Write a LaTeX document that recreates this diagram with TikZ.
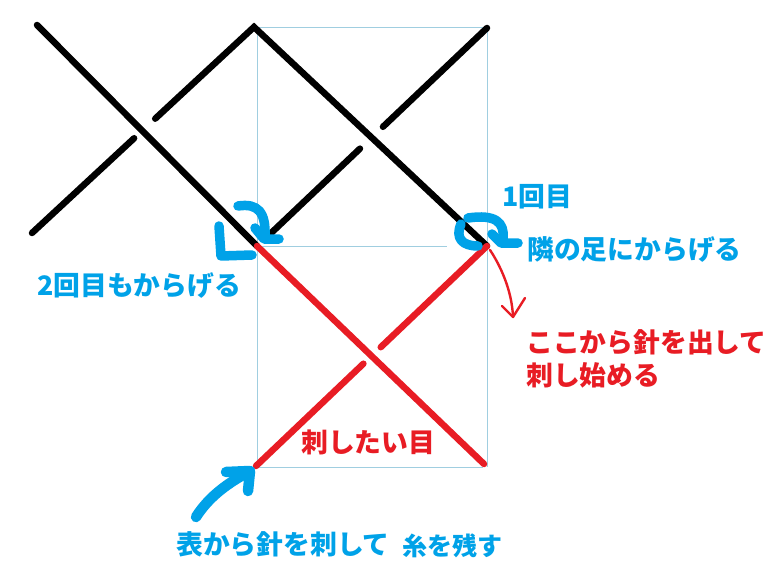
\documentclass[tikz,border=0pt]{standalone}
\usepackage{fontspec}
\newfontfamily\jp{Noto Sans CJK JP}
\usetikzlibrary{calc}
\definecolor{pblue}{RGB}{0,162,232}
\definecolor{pred}{RGB}{232,28,36}
\definecolor{gridc}{RGB}{160,206,224}
\begin{document}
\begin{tikzpicture}[x=1pt,y=-1pt,
  gridline/.style={draw=gridc,line width=0.9pt},
  blk/.style={draw=black,line width=6.5pt,line cap=round},
  redl/.style={draw=pred,line width=6.5pt,line cap=round},
  brush/.style={draw=pblue,line width=9.5pt,line cap=round,line join=round},
  thinred/.style={draw=pred,line width=2.4pt,line cap=round,line join=round},
  lbl/.style={inner sep=0pt,anchor=west,font=\jp\bfseries\fontsize{26.8}{32}\selectfont},
  bluetxt/.style={lbl,text=pblue},
  redtxt/.style={lbl,text=pred}]
\useasboundingbox[fill=white] (0,0) rectangle (779,583);
% grid
\coordinate (TL) at (257,27);
\coordinate (TR) at (487,27);
\coordinate (ML) at (257,246);
\coordinate (MM) at (447,246);
\coordinate (MR) at (487,246);
\coordinate (BL) at (257,467);
\coordinate (BR) at (487,467);
\coordinate (BM) at (483,467);
\draw[gridline] (TL) -- (TR) -- (BR);
\draw[gridline] (TL) -- (BL) -- (BM);
\draw[gridline] (ML) -- (MM);
% black stitches
\coordinate (A1) at (37,25);
\coordinate (J1) at (257,246);
\coordinate (A2) at (32,233);
\coordinate (P) at (254,27);
\coordinate (J2) at (487,246);
\coordinate (A4) at (268,236);
\coordinate (E4) at (487,28);
\draw[blk] (A1) -- (J1);
\draw[blk] (A2) -- ($(A2)!0.46!(P)$);
\draw[blk] ($(A2)!0.555!(P)$) -- (P) -- (J2);
\draw[blk] (A4) -- ($(A4)!0.42!(E4)$);
\draw[blk] ($(A4)!0.525!(E4)$) -- (E4);
% red stitches
\coordinate (R1) at (484,464);
\coordinate (R2) at (256,466);
\draw[redl] (J1) -- (R1);
\draw[redl] (R2) -- ($(R2)!0.465!(J2)$);
\draw[redl] ($(R2)!0.54!(J2)$) -- (J2);
% blue hand-drawn marks
\draw[brush] (238,206) .. controls (258,203) and (266,212) .. (265,237);
\draw[brush] (255,228) -- (264,239) -- (279,239);
\draw[brush] (219,226) -- (221,256) -- (252,255);
\draw[brush] (468,218) .. controls (495,214) and (505,222) .. (503,239);
\draw[brush] (492,234) -- (501,243) -- (518,243);
\draw[brush] (461,224) .. controls (455,238) and (462,246) .. (478,246);
\coordinate (S0) at (196,517);
\coordinate (S1) at (250,471);
\draw[brush,line width=10.5pt] (S0) .. controls (210,495) and (230,482) .. (S1);
\draw[brush,line width=10.5pt] (226,472) -- (S1) -- (248,491);
% thin red arrow
\coordinate (T0) at (490,250);
\coordinate (T1) at (513,317);
\draw[thinred] (T0) .. controls (500,265) and (512,290) .. (T1);
\draw[thinred] (502,306) -- (T1) -- (525,298);
% labels
\node[bluetxt] (l1) at (502,197) {1回目};
\node[bluetxt] (l2) at (527,249) {隣の足にからげる};
\node[redtxt] (l3) at (526,342) {ここから針を出して};
\node[redtxt] (l4) at (526,375) {刺し始める};
\node[bluetxt] (l5) at (37,286) {2回目もからげる};
\node[redtxt] (l6) at (301,442) {刺したい目};
\node[bluetxt] (l7) at (176,544) {表から針を刺して};
\node[bluetxt,font=\jp\bfseries\fontsize{25}{30}\selectfont] (l8) at (402,546) {糸を残す};
\end{tikzpicture}
\end{document}
